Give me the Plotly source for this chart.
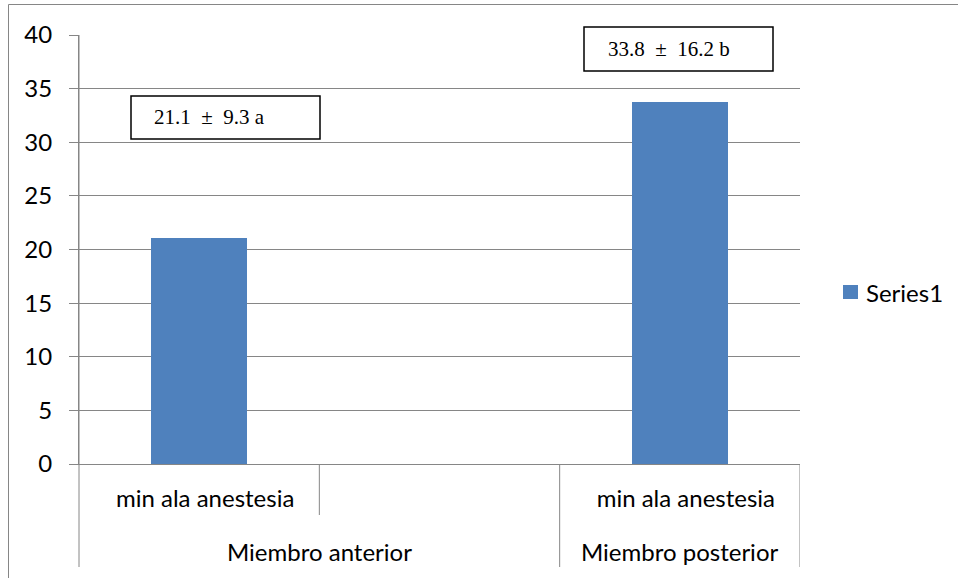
import plotly.graph_objects as go

# Category structure: three slots on the axis, the middle one left empty
inner_labels = ["min ala anestesia", "", "min ala anestesia"]
group_labels = ["Miembro anterior", "Miembro anterior", "Miembro posterior"]
bar_slots = [0, 2]
means = [21.1, 33.8]
sds = [9.3, 16.2]
letters = ["a", "b"]
series_name = "Series1"
y_ticks = [0, 5, 10, 15, 20, 25, 30, 35, 40]

BAR_COLOR = "#4F81BD"
GRID = "#868686"
SANS = "Lato, 'Open Sans', sans-serif"
SERIF = "'Liberation Serif', 'Times New Roman', serif"
FS = 24

# Plot area in pixels
W, H = 958, 578
L, R, T, B = 79, 158, 35, 114
PW, PH = W - L - R, H - T - B


def px_x(px):
    return (px - L) / PW


def px_y(py):
    return (H - B - py) / PH


fig = go.Figure()
fig.add_trace(go.Bar(
    x=bar_slots, y=means, width=0.4, name=series_name,
    marker=dict(color=BAR_COLOR, line=dict(width=0)),
    showlegend=False,
))

n = len(inner_labels)
shapes = []
annotations = []

# Axis extension and category dividers below the plot area
shapes.append(dict(type="line", xref="paper", yref="paper",
                   x0=0, x1=0, y0=1, y1=px_y(567),
                   line=dict(color=GRID, width=1)))
shapes.append(dict(type="line", xref="x", yref="paper",
                   x0=0.5, x1=0.5, y0=0, y1=px_y(515),
                   line=dict(color=GRID, width=1)))
for xv in (1.5, 2.5):
    shapes.append(dict(type="line", xref="x", yref="paper",
                       x0=xv, x1=xv, y0=0, y1=px_y(567),
                       line=dict(color=GRID, width=1)))

# Outer chart border (top and left edges visible)
shapes.append(dict(type="rect", xref="paper", yref="paper",
                   x0=px_x(8.5), x1=px_x(1000), y0=px_y(620), y1=px_y(4.5),
                   line=dict(color=GRID, width=1), fillcolor="rgba(0,0,0,0)",
                   layer="below"))

# Group labels centred under their category spans
groups = []
for i, g in enumerate(group_labels):
    if groups and groups[-1][0] == g:
        groups[-1][2] = i
    else:
        groups.append([g, i, i])
for g, i0, i1 in groups:
    annotations.append(dict(
        text=g, xref="x", yref="paper", x=(i0 + i1) / 2, y=px_y(551),
        xanchor="center", yanchor="middle", showarrow=False,
        font=dict(family=SANS, size=FS, color="black"),
    ))

# Mean ± SD boxes
boxes = [
    dict(x0=131, x1=320, y0=96, y1=139, tx=152),
    dict(x0=584, x1=773, y0=27, y1=71, tx=606),
]
for m, s, let, bx in zip(means, sds, letters, boxes):
    shapes.append(dict(type="rect", xref="paper", yref="paper",
                       x0=px_x(bx["x0"]), x1=px_x(bx["x1"]),
                       y0=px_y(bx["y1"]), y1=px_y(bx["y0"]),
                       line=dict(color="black", width=1.5),
                       fillcolor="white", layer="above"))
    annotations.append(dict(
        text=f"{m:.1f}  \u00b1  {s:.1f} {let}",
        xref="paper", yref="paper",
        x=px_x(bx["tx"]), y=px_y((bx["y0"] + bx["y1"]) / 2),
        xanchor="left", yanchor="middle", showarrow=False,
        font=dict(family=SERIF, size=21, color="black"),
    ))

# Legend entry
shapes.append(dict(type="rect", xref="paper", yref="paper",
                   x0=px_x(843), x1=px_x(858), y0=px_y(299), y1=px_y(285),
                   line=dict(width=0), fillcolor=BAR_COLOR))
annotations.append(dict(
    text=series_name, xref="paper", yref="paper",
    x=px_x(864), y=px_y(292), xanchor="left", yanchor="middle",
    showarrow=False, font=dict(family=SANS, size=FS, color="black"),
))

fig.update_layout(
    width=W, height=H, autosize=False,
    margin=dict(l=L, r=R, t=T, b=B, pad=0),
    paper_bgcolor="white", plot_bgcolor="white",
    bargap=0, showlegend=False,
    shapes=shapes, annotations=annotations,
    xaxis=dict(
        range=[-0.5, n - 0.5], tickmode="array",
        tickvals=list(range(n)), ticktext=inner_labels,
        showgrid=False, zeroline=False, showline=True,
        linecolor=GRID, linewidth=1, ticks="",
        ticklabelstandoff=13, ticklabelshift=6,
        tickfont=dict(family=SANS, size=FS, color="black"),
    ),
    yaxis=dict(
        range=[0, 40], tickmode="array", tickvals=y_ticks,
        showgrid=True, gridcolor=GRID, gridwidth=1,
        zeroline=False, showline=True, linecolor=GRID, linewidth=1,
        ticks="outside", ticklen=9, tickcolor=GRID,
        ticklabelstandoff=12,
        tickfont=dict(family=SANS, size=FS, color="black"),
    ),
)

fig.write_html("out.html")
